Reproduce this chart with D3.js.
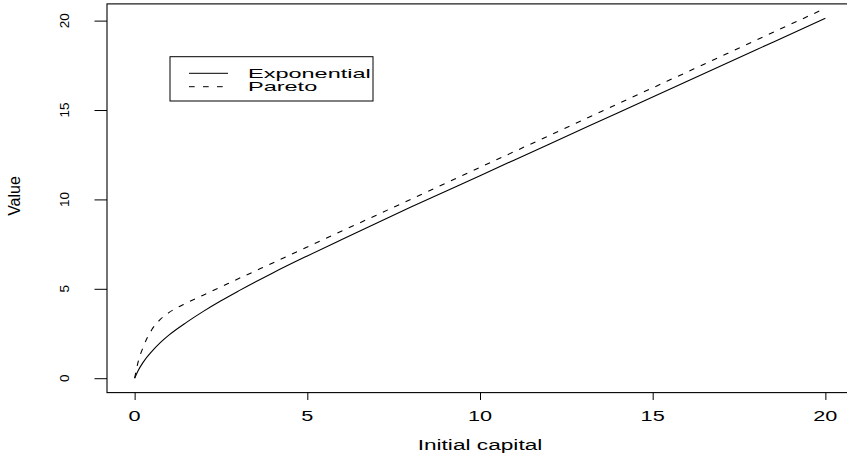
<!DOCTYPE html>
<html>
<head>
<meta charset="utf-8">
<script src="https://cdn.jsdelivr.net/npm/d3@7"></script>
<style>
  body { margin: 0; background: #fff; }
  text { font-family: "Liberation Sans", Arial, Helvetica, sans-serif; fill: #000; }
</style>
</head>
<body>
<svg id="chart" width="847" height="457"></svg>
<script>
// values
const capital = [0, 0.1, 0.25, 0.5, 0.75, 1, 1.5, 2, 2.5, 3, 4, 5, 6, 7, 8, 10, 12, 14, 16, 18, 20];
const exponential = [0, 0.42, 0.9, 1.5, 2.0, 2.42, 3.12, 3.75, 4.33, 4.87, 5.89, 6.84, 7.76, 8.67, 9.57, 11.33, 13.09, 14.85, 16.61, 18.37, 20.13];
const pareto = [0, 0.9, 1.75, 2.72, 3.3, 3.68, 4.2, 4.66, 5.11, 5.56, 6.45, 7.34, 8.23, 9.12, 10.01, 11.79, 13.57, 15.35, 17.13, 18.91, 20.69];
const xTicks = [0, 5, 10, 15, 20];
const yTicks = [0, 5, 10, 15, 20];
const seriesNames = ['Exponential', 'Pareto'];

const svg = d3.select('#chart');

// plot region (R style, limits padded 4%)
const plot = { left: 107, right: 853, top: 3.9, bottom: 392.6 };

// R pads the range by 4% on each side
function rPad(ext) {
	const d = (ext[1] - ext[0]) * 0.04;
	return [ext[0] - d, ext[1] + d];
}

const x = d3.scaleLinear()
	.domain(rPad(d3.extent(capital)))
	.range([plot.left, plot.right]);

// y limits come from the first curve only (second added with lines())
const y = d3.scaleLinear()
	.domain(rPad(d3.extent(exponential)))
	.range([plot.bottom, plot.top]);

const line = (vals) => d3.line()
	.x((d, i) => x(capital[i]))
	.y((d) => y(d))
	.curve(d3.curveMonotoneX)(vals);

// curves
svg.append('path')
	.attr('d', line(exponential))
	.attr('fill', 'none')
	.attr('stroke', '#000')
	.attr('stroke-width', 1.1);

svg.append('path')
	.attr('d', line(pareto))
	.attr('fill', 'none')
	.attr('stroke', '#000')
	.attr('stroke-width', 1.1)
	.attr('stroke-dasharray', '5.5,7');

// x axis ticks
const xAxis = svg.append('g')
	.attr('transform', `translate(0,${plot.bottom})`)
	.call(d3.axisBottom(x).tickValues(xTicks).tickSize(7.4).tickFormat(''));
xAxis.select('.domain').remove();
xAxis.selectAll('line').attr('stroke', '#000');

// x tick labels (wide horizontal text as in the reference)
svg.append('g')
	.selectAll('text')
	.data(xTicks)
	.join('text')
	.attr('transform', (d) => `translate(${x(d)},420.5) scale(1.55,1)`)
	.attr('text-anchor', 'middle')
	.attr('font-size', 14)
	.text((d) => d);

// y axis ticks
const yAxis = svg.append('g')
	.attr('transform', `translate(${plot.left},0)`)
	.call(d3.axisLeft(y).tickValues(yTicks).tickSize(12.5).tickFormat(''));
yAxis.select('.domain').remove();
yAxis.selectAll('line').attr('stroke', '#000');

// y tick labels, rotated
svg.append('g')
	.selectAll('text')
	.data(yTicks)
	.join('text')
	.attr('transform', (d) => `translate(68.5,${y(d)}) rotate(-90)`)
	.attr('text-anchor', 'middle')
	.attr('font-size', 13.5)
	.text((d) => d);

// box
svg.append('rect')
	.attr('x', plot.left)
	.attr('y', plot.top)
	.attr('width', plot.right - plot.left)
	.attr('height', plot.bottom - plot.top)
	.attr('fill', 'none')
	.attr('stroke', '#000')
	.attr('stroke-width', 1.1);

// axis titles
svg.append('text')
	.attr('transform', `translate(${(plot.left + plot.right) / 2},450) scale(1.62,1)`)
	.attr('text-anchor', 'middle')
	.attr('font-size', 14)
	.text('Initial capital');

svg.append('text')
	.attr('transform', `translate(20,196) rotate(-90)`)
	.attr('text-anchor', 'middle')
	.attr('font-size', 16)
	.text('Value');

// legend
const legend = svg.append('g');
legend.append('rect')
	.attr('x', 170)
	.attr('y', 56.7)
	.attr('width', 203)
	.attr('height', 44.3)
	.attr('fill', '#fff')
	.attr('stroke', '#000')
	.attr('stroke-width', 1);

const rows = legend.selectAll('g.row')
	.data(seriesNames)
	.join('g')
	.attr('class', 'row')
	.attr('transform', (d, i) => `translate(0,${73.3 + i * 13.4})`);

rows.append('line')
	.attr('x1', 189)
	.attr('x2', 228)
	.attr('stroke', '#000')
	.attr('stroke-width', 1)
	.attr('stroke-dasharray', (d, i) => (i === 1 ? '5.7,8.3' : null));

rows.append('text')
	.attr('transform', 'translate(248,4.5) scale(1.88,1)')
	.attr('font-size', 12.5)
	.text((d) => d);
</script>
</body>
</html>
